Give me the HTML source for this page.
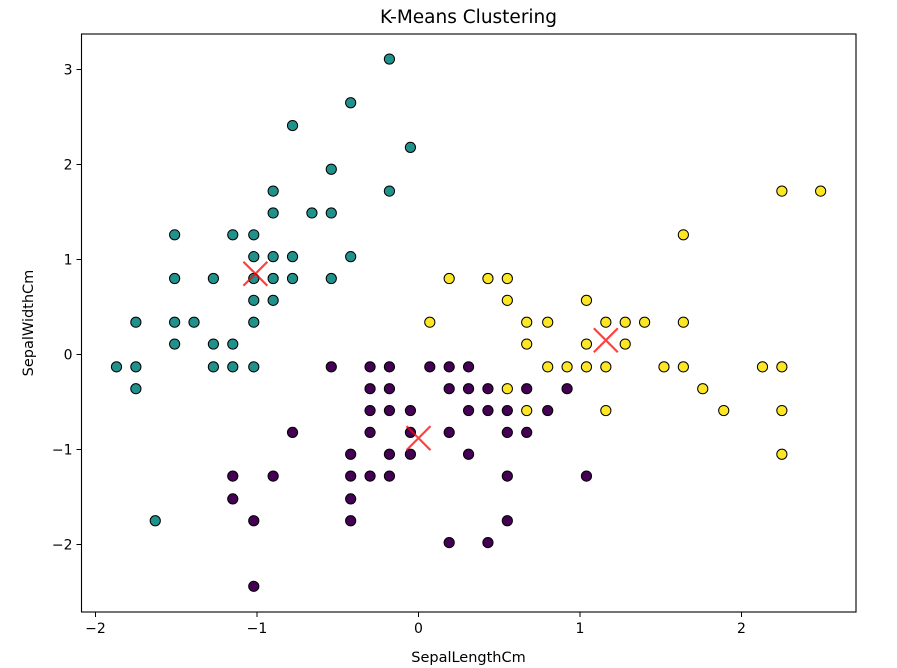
<!DOCTYPE html>
<html><head><meta charset="utf-8"><style>
html,body{margin:0;padding:0;background:#fff;}
svg{display:block;font-family:"DejaVu Sans","Liberation Sans",sans-serif;}
</style></head><body>
<svg id="chart" width="897" height="668" viewBox="0 0 897 668"></svg>
<script>
const cluster0X=[-0.54,-0.30,-0.18,0.07,0.19,0.31, -0.30,-0.18,0.19,0.31,0.43,0.67,0.92, -0.30,-0.18,-0.05,0.31,0.43,0.55,0.80, -0.78,-0.30,-0.05,0.19,0.55,0.67, -0.42,-0.18,-0.05,0.31, -1.15,-0.90,-0.42,-0.30,-0.18,0.55,1.04, -1.15,-0.42, -1.02,-0.42,0.55, 0.19,0.43, -1.02];
const cluster0Y=[-0.13,-0.13,-0.13,-0.13,-0.13,-0.13, -0.36,-0.36,-0.36,-0.36,-0.36,-0.36,-0.36, -0.59,-0.59,-0.59,-0.59,-0.59,-0.59,-0.59, -0.82,-0.82,-0.82,-0.82,-0.82,-0.82, -1.05,-1.05,-1.05,-1.05, -1.28,-1.28,-1.28,-1.28,-1.28,-1.28,-1.28, -1.52,-1.52, -1.75,-1.75,-1.75, -1.98,-1.98, -2.44];
const cluster1X=[-0.18,-0.42,-0.78,-0.05,-0.54,-0.90,-0.18,-0.90,-0.66,-0.54,-1.51,-1.15,-1.02,-1.02,-0.90,-0.78,-0.42,-1.51,-1.27,-1.02,-0.90,-0.78,-0.54,-1.02,-0.90,-1.75,-1.51,-1.39,-1.02,-1.51,-1.27,-1.15,-1.87,-1.75,-1.27,-1.15,-1.02,-1.75,-1.63];
const cluster1Y=[3.11,2.65,2.41,2.18,1.95,1.72,1.72,1.49,1.49,1.49,1.26,1.26,1.26,1.03,1.03,1.03,1.03,0.80,0.80,0.80,0.80,0.80,0.80,0.57,0.57,0.34,0.34,0.34,0.34,0.11,0.11,0.11,-0.13,-0.13,-0.13,-0.13,-0.13,-0.36,-1.75];
const cluster2X=[2.25,2.49, 1.64, 0.19,0.43,0.55, 0.55,1.04, 0.07,0.67,0.80,1.16,1.28,1.40,1.64, 0.67,1.04,1.28, 0.80,0.92,1.04,1.16,1.52,1.64,2.13,2.25, 0.55,1.76, 0.67,1.16,1.89,2.25, 2.25];
const cluster2Y=[1.72,1.72, 1.26, 0.80,0.80,0.80, 0.57,0.57, 0.34,0.34,0.34,0.34,0.34,0.34,0.34, 0.11,0.11,0.11, -0.13,-0.13,-0.13,-0.13,-0.13,-0.13,-0.13,-0.13, -0.36,-0.36, -0.59,-0.59,-0.59,-0.59, -1.05];
const centroidX=[-1.01,0.0,1.16];
const centroidY=[0.85,-0.88,0.15];
const xTicks=[-2,-1,0,1,2];
const yTicks=[-2,-1,0,1,2,3];

const NS="http://www.w3.org/2000/svg";
const svg=document.getElementById('chart');
const L=81.5,R=856,T=34,B=612;
const xs=v=>418.5+v*161.5;
const ys=v=>354.5+-v*95;
function mk(tag,attrs,parent){const e=document.createElementNS(NS,tag);for(const k in attrs)e.setAttribute(k,attrs[k]);(parent||svg).appendChild(e);return e;}

const title=mk('text',{x:468.5,y:23,'text-anchor':'middle','font-size':'18.5',fill:'#000'});
title.textContent='K-Means Clustering';



const colors=['#440154','#21918c','#fde725'];
const sets=[[cluster0X,cluster0Y],[cluster1X,cluster1Y],[cluster2X,cluster2Y]];
sets.forEach((s,ci)=>{
  const g=mk('g',{});
  
  
  s[0].forEach((xv,i)=>{
    const c=mk('circle',{cx:xs(xv),cy:ys(s[1][i]),r:5.1,fill:colors[ci],stroke:'#000','stroke-width':1},g);
    
    
  });
});
centroidX.forEach((xv,i)=>{
  const cx=xs(xv),cy=ys(centroidY[i]),d=12;
  const p=mk('path',{d:`M${cx-d},${cy-d}L${cx+d},${cy+d}M${cx-d},${cy+d}L${cx+d},${cy-d}`,stroke:'#ff0000','stroke-opacity':0.75,'stroke-width':2.2,fill:'none'});
  
  
});

const frame=mk('rect',{x:L,y:T,width:R-L,height:B-T,fill:'none',stroke:'#000','stroke-width':1.1});



xTicks.forEach(t=>{
  const x=xs(t);
  mk('line',{x1:x,x2:x,y1:B,y2:B+5,stroke:'#000','stroke-width':1});
  const tx=mk('text',{x:x,y:B+21,'text-anchor':'middle','font-size':'14',fill:'#000'});
  tx.textContent=t<0?'\u2212'+(-t):String(t);
  
  
});
yTicks.forEach(t=>{
  const y=ys(t);
  mk('line',{x1:L-5,x2:L,y1:y,y2:y,stroke:'#000','stroke-width':1});
  const tx=mk('text',{x:L-9,y:y+5,'text-anchor':'end','font-size':'14',fill:'#000'});
  tx.textContent=t<0?'\u2212'+(-t):String(t);
  
  
});
const xl=mk('text',{x:468.5,y:662,'text-anchor':'middle','font-size':'14.5',fill:'#000'});
xl.textContent='SepalLengthCm';


const yl=mk('text',{x:33,y:323,'text-anchor':'middle','font-size':'14.5',fill:'#000',transform:'rotate(-90 33 323)'});
yl.textContent='SepalWidthCm';


</script>
</body></html>
